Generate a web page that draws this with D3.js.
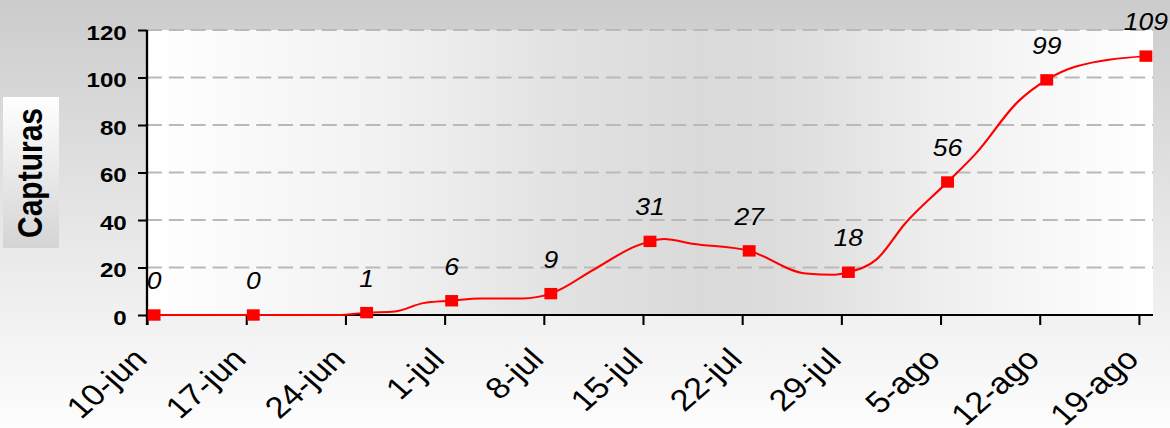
<!DOCTYPE html>
<html><head><meta charset="utf-8">
<script src="https://cdn.jsdelivr.net/npm/d3@7"></script>
<style>html,body{margin:0;padding:0;background:#fff;overflow:hidden}</style>
</head><body>
<script>
// ---- data ----
const weekDates  = ["2009-06-10","2009-06-17","2009-06-25","2009-07-01","2009-07-08","2009-07-15","2009-07-22","2009-07-29","2009-08-05","2009-08-12","2009-08-19"];
const weekValues = [0, 0, 1, 6, 9, 31, 27, 18, 56, 99, 109];
// path of the smoothed line (includes unmarked points)
const curveDates  = ["2009-06-10","2009-06-17","2009-06-23","2009-06-25","2009-06-27","2009-06-29","2009-07-01","2009-07-03","2009-07-06","2009-07-08","2009-07-11","2009-07-14","2009-07-15","2009-07-16","2009-07-18","2009-07-22","2009-07-26","2009-07-28","2009-07-29","2009-07-31","2009-08-02","2009-08-05","2009-08-07","2009-08-10","2009-08-12","2009-08-14","2009-08-19"];
const curveValues = [0, 0, 0, 1, 1.5, 5, 6, 7, 7, 9, 19, 29, 31, 32, 30, 27, 17.5, 17, 18, 23.5, 38.5, 56, 68, 90, 99, 104.5, 109];
const xTickDates  = ["2009-06-10","2009-06-17","2009-06-24","2009-07-01","2009-07-08","2009-07-15","2009-07-22","2009-07-29","2009-08-05","2009-08-12","2009-08-19"];
const xTickLabels = ["10-jun","17-jun","24-jun","1-jul","8-jul","15-jul","22-jul","29-jul","5-ago","12-ago","19-ago"];
const xDomain = ["2009-06-10","2009-08-20"];
const yTicks = [0, 20, 40, 60, 80, 100, 120];
const yTitle = "Capturas";

(function () {
// ---- layout ----
const SX = 1.15;                 // horizontal stretch of the picture
const W = 1170 / SX, H = 428;
const FONT = "'Liberation Sans', Arial, sans-serif";
const pL = 147 / SX, pR = 1153 / SX, pT = 30, pB = 315;

const parse = d3.utcParse("%Y-%m-%d");
const mid = d => d3.utcHour.offset(parse(d), 12);

const x = d3.scaleUtc().domain(xDomain.map(parse)).range([pL, pR]);
const y = d3.scaleLinear().domain([0, 120]).range([pB, pT]);

const svg = d3.select("body").append("svg")
  .attr("width", 1170).attr("height", 428)
  .attr("viewBox", `0 0 ${W} ${H}`)
  .attr("preserveAspectRatio", "none")
  .style("display", "block");

const defs = svg.append("defs");
const bg = defs.append("linearGradient").attr("id", "bg").attr("x1", 0).attr("y1", 0).attr("x2", 0).attr("y2", 1);
[[0, "#cbcbcb"], [0.08, "#d0d0d0"], [0.7, "#efefef"], [1, "#fdfdfd"]].forEach(([o, c]) => bg.append("stop").attr("offset", o).attr("stop-color", c));
const pg = defs.append("linearGradient").attr("id", "pg").attr("x1", 0).attr("y1", 0).attr("x2", 1).attr("y2", 0);
[[0, "#ffffff"], [0.23, "#f2f2f2"], [0.41, "#e2e2e2"], [0.55, "#dadada"], [0.62, "#dcdcdc"], [0.69, "#e3e3e3"], [0.79, "#efefef"], [0.9, "#f8f8f8"], [1, "#ffffff"]]
  .forEach(([o, c]) => pg.append("stop").attr("offset", o).attr("stop-color", c));
const tg = defs.append("linearGradient").attr("id", "tg").attr("x1", 0).attr("y1", 0).attr("x2", 0).attr("y2", 1);
[[0, "#ffffff"], [1, "#d4d4d4"]].forEach(([o, c]) => tg.append("stop").attr("offset", o).attr("stop-color", c));

svg.append("rect").attr("width", W).attr("height", H).attr("fill", "url(#bg)");
svg.append("rect").attr("x", pL).attr("y", pT).attr("width", pR - pL).attr("height", pB - pT).attr("fill", "url(#pg)");

// gridlines
svg.append("g").selectAll("line").data(yTicks.filter(v => v > 0)).join("line")
  .attr("x1", pL).attr("x2", pR).attr("y1", d => y(d)).attr("y2", d => y(d))
  .attr("stroke", "#b9b9b9").attr("stroke-width", 2).attr("stroke-dasharray", "13,6");

// y axis
const yAxis = svg.append("g").attr("transform", `translate(${pL},0)`)
  .call(d3.axisLeft(y).tickValues(yTicks).tickSize(7.8).tickPadding(0).tickFormat(d3.format("d")));
yAxis.select(".domain").attr("stroke", "#000").attr("stroke-width", 2).attr("d", `M0,${pT}V${pB + 10}`);
yAxis.selectAll(".tick line").attr("stroke", "#000").attr("stroke-width", 2);
yAxis.selectAll(".tick text").attr("x", 110.2 - pL).attr("dy", "0.45em")
  .style("font-family", FONT).style("font-size", "21px").style("font-weight", "bold").attr("fill", "#000");

// x axis
const xAxis = svg.append("g").attr("transform", `translate(0,${pB})`)
  .call(d3.axisBottom(x).tickValues(xTickDates.map(parse)).tickSize(10).tickFormat((d, i) => xTickLabels[i]));
xAxis.select(".domain").attr("stroke", "#000").attr("stroke-width", 2).attr("d", `M${pL},0H${pR}`);
xAxis.selectAll(".tick line").attr("stroke", "#000").attr("stroke-width", 1.8);
xAxis.selectAll(".tick text")
  .attr("y", 0).attr("dy", 0)
  .attr("transform", `translate(1,46) rotate(-45)`)
  .attr("text-anchor", "end")
  .style("font-family", FONT).style("font-size", "30px").attr("fill", "#000");

// y title
svg.append("rect").attr("x", 2.6).attr("y", 97).attr("width", 48.7).attr("height", 151).attr("fill", "url(#tg)");
svg.append("text").attr("transform", `translate(36.5,173) rotate(-90)`)
  .attr("text-anchor", "middle")
  .style("font-family", FONT).style("font-size", "30px").style("font-weight", "bold")
  .text(yTitle);

// line
const curvePts = curveDates.map((d, i) => [x(mid(d)), y(curveValues[i])]);
svg.append("path").attr("d", d3.line().curve(d3.curveMonotoneX)(curvePts))
  .attr("fill", "none").attr("stroke", "#ff0000").attr("stroke-width", 2);

// markers
const pts = weekDates.map((d, i) => ({ d: mid(d), v: weekValues[i] }));
svg.append("g").selectAll("rect").data(pts).join("rect")
  .attr("x", p => x(p.d) - 5.6).attr("y", p => y(p.v) - 5.7)
  .attr("width", 11.2).attr("height", 11.4).attr("fill", "#ff0000");

// value labels
svg.append("g").selectAll("text").data(pts).join("text")
  .attr("x", p => x(p.d)).attr("y", p => y(p.v) - 26)
  .attr("text-anchor", "middle")
  .style("font-family", FONT).style("font-size", "23px").style("font-style", "italic")
  .text(p => p.v);
})();
</script>
</body></html>
